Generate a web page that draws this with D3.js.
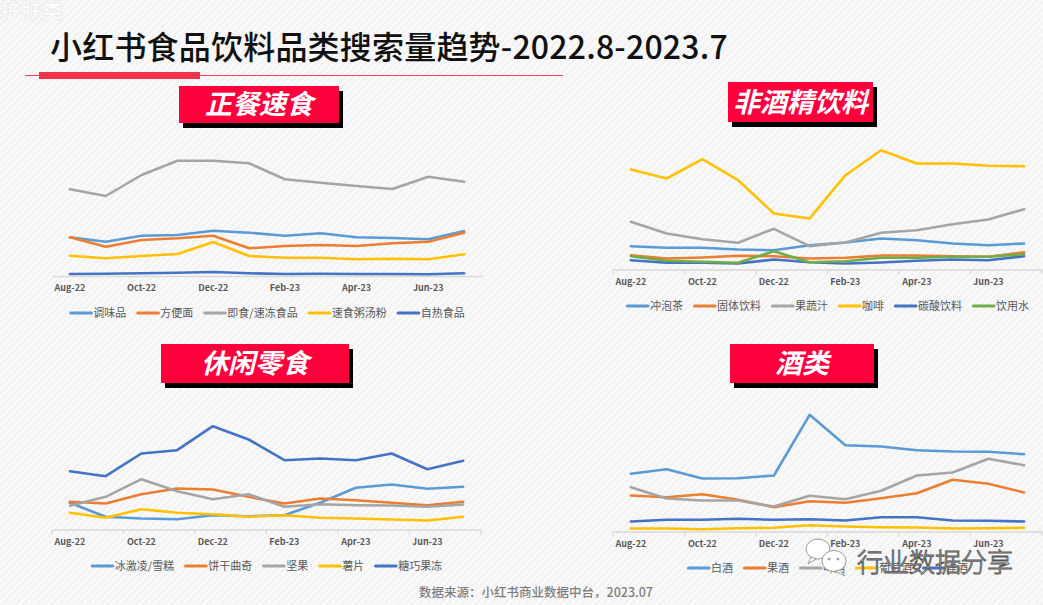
<!DOCTYPE html>
<html>
<head>
<meta charset="utf-8">
<script src="https://cdn.jsdelivr.net/npm/d3@7/dist/d3.min.js"></script>
<style>
  html, body { margin: 0; padding: 0; background: #f4f4f4; }
  svg { display: block; }
  text { font-family: "Noto Sans CJK SC", "Noto Sans", sans-serif; }
</style>
</head>
<body>
<svg id="chart" width="1043" height="605"></svg>
<script>
// ---- data (relative search volume) ----
var months = ["Aug-22","Sep-22","Oct-22","Nov-22","Dec-22","Jan-23","Feb-23","Mar-23","Apr-23","May-23","Jun-23","Jul-23"];

var foodNames = ["调味品","方便面","即食/速冻食品","速食粥汤粉","自热食品"];
var foodValues = [
  [38.7, 34.3, 40.3, 41, 45.3, 43.3, 40.3, 42.7, 38.7, 38, 36.7, 45],
  [38.7, 29.3, 36, 37.7, 40.3, 27.7, 30, 31, 30, 32.7, 34.3, 43.3],
  [86.7, 80, 101, 115.3, 115.3, 112.7, 96.7, 93.3, 90, 87, 99.3, 94.3],
  [20.3, 17.7, 20, 22, 34, 20, 18.3, 18.3, 16.7, 17.3, 16.7, 21.7],
  [2, 2.3, 2.7, 3.3, 4, 2.7, 2, 2.3, 2, 2, 1.7, 2.7]
];

var drinkNames = ["冲泡茶","固体饮料","果蔬汁","咖啡","碳酸饮料","饮用水"];
var drinkValues = [
  [23.3, 21.7, 21.7, 20, 19.3, 24.3, 27, 31, 29.3, 26, 24.3, 26],
  [14.3, 11, 12, 13.7, 13.3, 11, 11.7, 14, 14, 13.3, 12.7, 17.3],
  [47.7, 36, 30.3, 26.7, 40.7, 23.3, 27, 36.7, 39.3, 45.3, 50, 60.3],
  [100, 91, 110.3, 89.3, 56, 51, 94.3, 119.3, 106, 106, 103.7, 103.3],
  [9.3, 6.7, 6.7, 6, 10, 7.3, 6, 7, 8.7, 10, 9.3, 13.3],
  [13.3, 8.7, 7.7, 6.7, 18.3, 7.3, 8.3, 11.7, 11.7, 12.7, 12.7, 15.3]
];

var snackNames = ["冰激凌/雪糕","饼干曲奇","坚果","薯片","糖巧果冻"];
var snackValues = [
  [26.7, 12.7, 11, 10.3, 14.3, 13.3, 14.3, 26.7, 41.7, 45, 40.7, 42.7],
  [27.7, 26, 35.3, 41, 40, 32.7, 26, 31, 29.3, 26.7, 24.3, 27.7],
  [23.7, 32.7, 50.3, 38.3, 30.3, 35.3, 22.7, 25.3, 24.3, 24, 22.7, 25],
  [16.7, 11.7, 20.3, 16.7, 15.3, 12.7, 14.3, 11.7, 11, 10, 9, 12.7],
  [58.3, 53.3, 76, 79.3, 103.3, 90, 69.3, 71, 69.3, 76, 60.3, 68.7]
];

var liquorNames = ["白酒","果酒","啤酒","葡萄酒","洋酒"];
var liquorValues = [
  [57.7, 62.3, 53, 53.3, 56, 116.7, 86.3, 85, 81.3, 80, 79.7, 77.3],
  [36, 34.3, 37.3, 31.7, 24.3, 30.3, 28.7, 33.3, 38.3, 51.7, 47.7, 39],
  [44.3, 33, 31, 31, 25, 35.7, 32.3, 40.7, 56, 59, 72.7, 66.3],
  [3, 3, 2.3, 3.3, 3.7, 6.3, 5, 4.3, 4, 3, 3.3, 3.7],
  [10, 11.7, 11.7, 12.7, 11.7, 12.3, 11, 14.3, 14.3, 11, 10.7, 10]
];

var palette = ["#5b9bd5","#ed7d31","#a5a5a5","#ffc000","#4472c4","#70ad47"];

// ---- layout ----
var svg = d3.select("#chart");

// hatched background
var defs = svg.append("defs");
var pat = defs.append("pattern")
  .attr("id", "hatch").attr("width", 5).attr("height", 5)
  .attr("patternUnits", "userSpaceOnUse")
  .attr("patternTransform", "rotate(-45)");
pat.append("rect").attr("width", 5).attr("height", 5).attr("fill", "#f3f3f3");
pat.append("rect").attr("width", 5).attr("height", 2).attr("fill", "#fbfbfb");
svg.append("rect").attr("width", 1043).attr("height", 605).attr("fill", "url(#hatch)");

// faint leftover header text at the top-left corner
svg.append("text")
  .attr("x", 0).attr("y", 18)
  .attr("font-size", 21).attr("font-weight", 700)
  .attr("fill", "#ffffff").attr("stroke", "#e6e6e6").attr("stroke-width", 0.6)
  .text("护肤类");

// main title
svg.append("text")
  .attr("x", 50).attr("y", 59)
  .attr("font-size", 32).attr("font-weight", 500)
  .attr("fill", "#111")
  .attr("letter-spacing", 0.2)
  .text("小红书食品饮料品类搜索量趋势-2022.8-2023.7");

svg.append("line")
  .attr("x1", 25).attr("x2", 563).attr("y1", 75.5).attr("y2", 75.5)
  .attr("stroke", "#f0405a").attr("stroke-width", 1.2);
svg.append("rect")
  .attr("x", 39).attr("y", 72).attr("width", 161).attr("height", 7)
  .attr("fill", "#f5334f");

// footer
svg.append("text")
  .attr("x", 419).attr("y", 597)
  .attr("font-size", 12.5).attr("font-weight", 500)
  .attr("fill", "#7f7f7f")
  .text("数据来源：小红书商业数据中台，2023.07");

var panels = [
  { title: "正餐速食", box: [179, 86, 160, 37], names: foodNames, values: foodValues,
    x0: 52, x1: 482, axisY: 276, legendY: 313, ticks: false },
  { title: "非酒精饮料", box: [728, 82, 145, 40], names: drinkNames, values: drinkValues,
    x0: 613, x1: 1042, axisY: 269.5, legendY: 306, ticks: true },
  { title: "休闲零食", box: [161, 344, 188, 39], names: snackNames, values: snackValues,
    x0: 52, x1: 481, axisY: 529.5, legendY: 566, ticks: true },
  { title: "酒类", box: [730, 344, 144, 39], names: liquorNames, values: liquorValues,
    x0: 613, x1: 1042, axisY: 531.5, legendY: 568, ticks: true }
];

panels.forEach(function (p) {
  var g = svg.append("g");

  // title box with black drop shadow
  var b = p.box;
  g.append("rect").attr("x", b[0] + 4).attr("y", b[1] + 5)
    .attr("width", b[2]).attr("height", b[3]).attr("fill", "#000");
  g.append("rect").attr("x", b[0]).attr("y", b[1])
    .attr("width", b[2]).attr("height", b[3]).attr("fill", "#ff003c");
  g.append("text")
    .attr("x", b[0] + b[2] / 2).attr("y", b[1] + b[3] / 2 + 9.5)
    .attr("text-anchor", "middle")
    .attr("font-size", 27).attr("font-weight", 700).attr("font-style", "italic")
    .attr("fill", "#fff")
    .text(p.title);

  var x = d3.scaleBand().domain(months).range([p.x0, p.x1]).paddingInner(0).paddingOuter(0);
  var y = d3.scaleLinear().domain([0, 120]).range([p.axisY, p.axisY - 120]);

  // category axis, label every second month
  var evenMonths = months.filter(function (m, i) { return i % 2 === 0; });
  var axis = g.append("g")
    .attr("transform", "translate(0," + p.axisY + ")")
    .call(d3.axisBottom(x).tickValues(evenMonths).tickSize(0).tickPadding(9));
  axis.select(".domain").attr("stroke", "#d9d9d9").attr("stroke-width", 1.3);
  axis.selectAll("text")
    .attr("font-family", "'Noto Sans', 'Open Sans', sans-serif")
    .attr("font-size", 9).attr("font-weight", 700).attr("fill", "#595959");

  if (p.ticks) {
    var tickPos = evenMonths.map(function (m) { return x(m); }).concat([p.x1]);
    g.selectAll(".btick").data(tickPos).enter().append("line")
      .attr("x1", function (d) { return d; }).attr("x2", function (d) { return d; })
      .attr("y1", p.axisY).attr("y2", p.axisY + 5)
      .attr("stroke", "#d9d9d9").attr("stroke-width", 1.2);
  }

  var line = d3.line()
    .x(function (d, i) { return x(months[i]) + x.bandwidth() / 2; })
    .y(function (d) { return y(d); });

  p.values.forEach(function (vals, k) {
    g.append("path")
      .attr("d", line(vals))
      .attr("fill", "none")
      .attr("stroke", palette[k])
      .attr("stroke-width", 2.6)
      .attr("stroke-linejoin", "round")
      .attr("stroke-linecap", "round");
  });

  // legend, centred under the plot
  var leg = g.append("g");
  var cx = 0;
  p.names.forEach(function (name, k) {
    var item = leg.append("g").attr("transform", "translate(" + cx + ",0)");
    item.append("line")
      .attr("x1", 1.5).attr("x2", 22).attr("y1", 0).attr("y2", 0)
      .attr("stroke", palette[k]).attr("stroke-width", 3.2)
      .attr("stroke-linecap", "round");
    var t = item.append("text")
      .attr("x", 24).attr("y", 4)
      .attr("font-size", 11).attr("fill", "#595959")
      .text(name);
    cx += 24 + t.node().getComputedTextLength() + 10;
  });
  var legW = cx - 10;
  leg.attr("transform", "translate(" + ((p.x0 + p.x1) / 2 - legW / 2) + "," + p.legendY + ")");
});

// watermark (sits over the last legend, as in the source)
var wm = svg.append("g").attr("fill", "#fff").attr("stroke", "#9a9a9a").attr("stroke-width", 1);
wm.append("ellipse").attr("cx", 818).attr("cy", 549).attr("rx", 12).attr("ry", 10);
wm.append("path").attr("d", "M811,557 L808,564 L816,559 Z");
wm.append("ellipse").attr("cx", 834).attr("cy", 561).attr("rx", 12).attr("ry", 10.5);
wm.append("path").attr("d", "M840,570 L845,576 L835,571 Z");
wm.append("circle").attr("cx", 829).attr("cy", 559).attr("r", 1).attr("fill", "#9a9a9a");
wm.append("circle").attr("cx", 838).attr("cy", 559).attr("r", 1).attr("fill", "#9a9a9a");
wm.append("text")
  .attr("x", 857).attr("y", 572)
  .attr("font-size", 26).attr("font-weight", 300)
  .attr("stroke", "#555").attr("stroke-width", 0.9)
  .text("行业数据分享");
</script>
</body>
</html>
